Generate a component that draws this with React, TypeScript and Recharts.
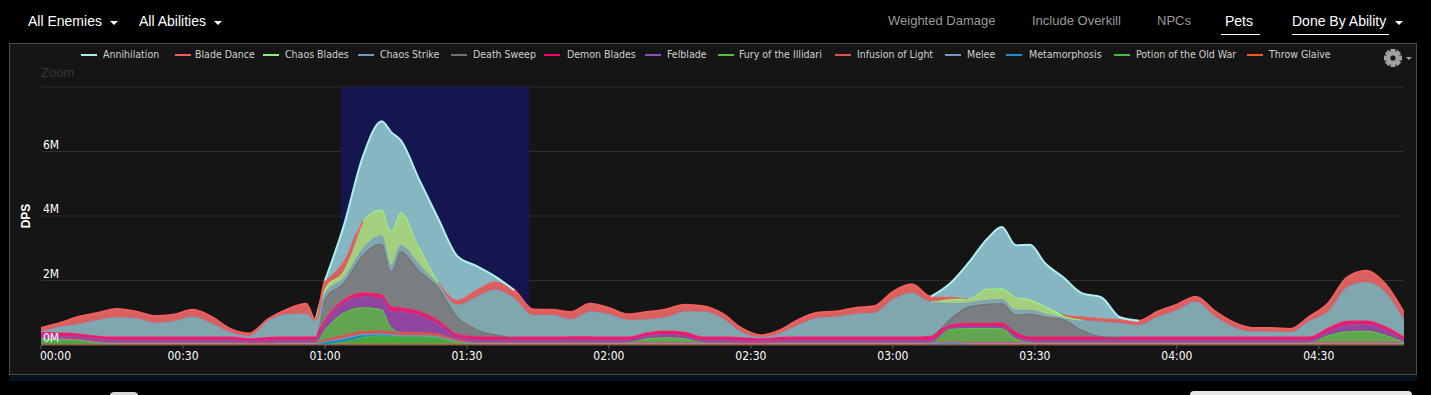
import React from 'react';
import { AreaChart, Area, XAxis, YAxis, CartesianGrid, ReferenceArea } from 'recharts';

const N = null;

// time in seconds since pull
const times = [0, 4, 8, 12, 16, 20, 24, 28, 32, 36, 40, 44, 48, 52, 56,
  58, 60, 64, 68, 72, 74, 76, 80, 84, 88, 92, 96, 100,
  104, 108, 112, 116, 120, 124, 128, 132, 136, 140, 144, 148, 152, 156, 160, 164, 168, 172, 176, 180, 184,
  188, 192, 196, 200, 203, 206, 209, 212, 216, 220, 224, 228, 232,
  236, 240, 244, 248, 252, 256, 260, 264, 268, 272, 276, 280, 284, 288];

// DPS values in millions
const annihilation = [N, N, N, N, N, N, N, N, N, N, N, N, N, N, N,
  N, 0, 1.1, 1.99, 2.74, 3.07, 2.23, 2.08, 1.93, 1.35, 0.73, 0.15, 0,
  N, N, N, N, N, N, N, N, N, N, N, N, N, N, N, N, N, N, N, N, N,
  0, 0.4, 1.11, 1.55, 1.91, 1.6, 1.7, 1.34, 1.15, 0.72, 0.64, 0.06, 0,
  N, N, N, N, N, N, N, N, N, N, N, N, N, N];
const bladeDance = [0.11, 0.11, 0.23, 0.21, 0.26, 0.2, 0.2, 0.2, 0.21, 0.2, 0.1, 0.08, 0.04, 0.14, 0.3,
  0.03, 0.25, 0.3, 0, N, N, N, N, 0, 0.15, 0.22, 0.25, 0.25,
  0.17, 0.15, 0.22, 0.24, 0.19, 0.17, 0.22, 0.24, 0.21, 0.16, 0.13, 0.11, 0.05, 0.09, 0.15, 0.16, 0.16, 0.18, 0.2, 0.23, 0.26,
  0.15, 0.08, 0, N, N, N, N, N, 0.05, 0.1, 0.11, 0.12, 0.13,
  0.16, 0.17, 0.15, 0.15, 0.14, 0.11, 0.11, 0.1, 0.13, 0.25, 0.3, 0.35, 0.25, 0.22];
const chaosBlades = [N, N, N, N, N, N, N, N, N, N, N, N, N, N, N,
  0, 0.15, 0.22, 0.85, 0.8, 1.03, 1.02, 0.52, 0.09, 0, N, N, N,
  N, N, N, N, N, N, N, N, N, N, N, N, N, N, N, N, N, N, N, N, N,
  0, 0.12, 0.12, 0.35, 0.32, 0.4, 0.32, 0.24, 0.05, 0, N, N, N,
  N, N, N, N, N, N, N, N, N, N, N, N, N, N];
const chaosStrike = [0.02, 0.18, 0.29, 0.49, 0.6, 0.58, 0.44, 0.48, 0.62, 0.42, 0.14, 0.07, 0.51, 0.7, 0.72,
  0.49, 0.15, 0.15, 0.2, 0.25, 0.22, 0.2, 0.2, 0.1, 0.37, 1.0, 1.39, 1.19,
  0.67, 0.68, 0.53, 0.77, 0.7, 0.52, 0.41, 0.41, 0.63, 0.78, 0.58, 0.17, 0.04, 0.11, 0.37, 0.58, 0.62, 0.71, 0.74, 1.16, 1.36,
  1.06, 0.5, 0.13, 0.12, 0.13, 0.14, 0.11, 0.1, 0.05, 0.31, 0.45, 0.42, 0.36,
  0.62, 0.82, 1.09, 0.64, 0.3, 0.16, 0.16, 0.14, 0.49, 0.51, 1.05, 1.19, 1.06, 0.52];
const deathSweep = [N, N, N, N, N, N, N, N, N, N, N, N, N, N, N,
  0, 0.67, 0.53, 1.17, 1.58, 1.08, 1.74, 1.25, 1.01, 0.54, 0.23, 0.07, 0,
  N, N, N, N, N, N, N, N, N, N, N, N, N, N, N, N, N, N, N, N, N,
  0.03, 0.18, 0.51, 0.6, 0.6, 0.55, 0.72, 0.62, 0.54, 0.21, 0.02, 0, N,
  N, N, N, N, N, N, N, N, N, N, N, N, N, N];
const demonBlades = [0.1, 0.1, 0.1, 0.1, 0.1, 0.1, 0.1, 0.1, 0.1, 0.1, 0.1, 0.08, 0.1, 0.1, 0.1,
  0.1, 0.1, 0.1, 0.12, 0.12, 0.15, 0.12, 0.12, 0.12, 0.1, 0.1, 0.1, 0.1,
  0.1, 0.1, 0.1, 0.1, 0.1, 0.1, 0.1, 0.12, 0.12, 0.1, 0.1, 0.1, 0.08, 0.1, 0.1, 0.1, 0.1, 0.1, 0.1, 0.1, 0.1,
  0.1, 0.08, 0.1, 0.1, 0.12, 0.12, 0.1, 0.1, 0.1, 0.1, 0.1, 0.1, 0.1,
  0.1, 0.1, 0.1, 0.1, 0.1, 0.1, 0.1, 0.1, 0.1, 0.12, 0.12, 0.12, 0.12, 0.1];
const felblade = [0.07, 0.07, 0.07, 0.07, 0.07, 0.07, 0.07, 0.07, 0.07, 0.07, 0.07, 0.05, 0.07, 0.07, 0.07,
  0.07, 0.2, 0.3, 0.34, 0.34, 0.5, 0.64, 0.53, 0.3, 0.06, 0.07, 0.07, 0.07,
  0.07, 0.07, 0.08, 0.08, 0.07, 0.07, 0.08, 0.09, 0.08, 0.07, 0.07, 0.06, 0.05, 0.06, 0.07, 0.07, 0.07, 0.07, 0.07, 0.07, 0.07,
  0.07, 0.04, 0.05, 0.05, 0.06, 0.08, 0.07, 0.07, 0.07, 0.07, 0.07, 0.07, 0.07,
  0.07, 0.07, 0.07, 0.07, 0.07, 0.07, 0.07, 0.07, 0.07, 0.12, 0.2, 0.2, 0.15, 0.07];
const furyOfTheIllidari = [N, N, N, N, N, N, N, N, N, N, N, N, N, N, N,
  0, 0.3, 0.69, 0.73, 0.65, 0.12, 0, N, N, N, N, N, N,
  N, N, N, N, N, 0, 0.12, 0.15, 0.12, 0, N, N, N, N, N, N, N, N, N, N, N,
  0, 0.38, 0.43, 0.43, 0.42, 0.1, 0, N, N, N, N, N, N,
  N, N, N, N, N, N, N, N, 0, 0.2, 0.33, 0.34, 0.22, 0];
const infusionOfLight = [0.02, 0.02, 0.02, 0.02, 0.02, 0.02, 0.02, 0.02, 0.02, 0.02, 0.02, 0.02, 0.02, 0.02, 0.02,
  0.02, 0.06, 0.1, 0.1, 0.1, 0.1, 0.1, 0.1, 0.09, 0.06, 0.03, 0.02, 0.02,
  0.02, 0.02, 0.02, 0.02, 0.02, 0.02, 0.02, 0.02, 0.02, 0.02, 0.02, 0.02, 0.02, 0.02, 0.02, 0.02, 0.02, 0.02, 0.02, 0.02, 0.02,
  0.02, 0.03, 0.03, 0.03, 0.03, 0.03, 0.02, 0.02, 0.02, 0.02, 0.02, 0.02, 0.02,
  0.02, 0.02, 0.02, 0.02, 0.02, 0.02, 0.02, 0.02, 0.02, 0.02, 0.02, 0.02, 0.02, 0.02];
const melee = [0.03, 0.03, 0.03, 0.03, 0.03, 0.03, 0.03, 0.03, 0.03, 0.03, 0.03, 0.03, 0.03, 0.03, 0.03,
  0.03, 0.03, 0.03, 0.03, 0.03, 0.03, 0.03, 0.03, 0.03, 0.03, 0.03, 0.03, 0.03,
  0.03, 0.03, 0.03, 0.03, 0.03, 0.03, 0.03, 0.03, 0.03, 0.03, 0.03, 0.03, 0.03, 0.03, 0.03, 0.03, 0.03, 0.03, 0.03, 0.03, 0.03,
  0.03, 0.03, 0.03, 0.03, 0.03, 0.03, 0.03, 0.03, 0.03, 0.03, 0.03, 0.03, 0.03,
  0.03, 0.03, 0.03, 0.03, 0.03, 0.03, 0.03, 0.03, 0.03, 0.03, 0.03, 0.03, 0.03, 0.03];
const metamorphosis = [N, N, N, N, N, N, N, N, N, N, N, N, N, N, N,
  0, 0.05, 0.08, 0.06, 0.03, 0, N, N, N, N, N, N, N,
  N, N, N, N, N, N, N, N, N, N, N, N, N, N, N, N, N, N, N, N, N,
  0, 0.02, 0, N, N, N, N, N, N, N, N, N, N,
  N, N, N, N, N, N, N, N, N, N, N, N, N, N];
const potionOfTheOldWar = [0.14, 0.13, 0.1, 0.03, 0, N, N, N, N, N, N, N, N, N, N,
  N, 0, 0.06, 0.2, 0.25, 0.25, 0.22, 0.22, 0.18, 0.04, 0, N, N,
  N, N, N, N, N, N, N, N, N, N, N, N, N, N, N, N, N, N, N, N, N,
  N, N, N, N, N, N, N, N, N, N, N, N, N,
  N, N, N, N, N, N, N, N, N, N, N, N, N, N];
const throwGlaive = [0.04, 0.04, 0.04, 0.04, 0.04, 0.04, 0.04, 0.04, 0.04, 0.04, 0.04, 0.03, 0.03, 0.04, 0.04,
  0.04, 0.04, 0.05, 0.05, 0.05, 0.05, 0.05, 0.05, 0.05, 0.05, 0.04, 0.04, 0.04,
  0.04, 0.04, 0.04, 0.04, 0.04, 0.04, 0.04, 0.04, 0.04, 0.04, 0.04, 0.03, 0.03, 0.04, 0.04, 0.04, 0.04, 0.04, 0.04, 0.04, 0.04,
  0.04, 0.04, 0.04, 0.04, 0.04, 0.04, 0.04, 0.04, 0.04, 0.04, 0.04, 0.04, 0.04,
  0.04, 0.04, 0.04, 0.04, 0.04, 0.04, 0.04, 0.04, 0.04, 0.05, 0.05, 0.05, 0.05, 0.04];

const seriesNames = ['Annihilation', 'Blade Dance', 'Chaos Blades', 'Chaos Strike', 'Death Sweep', 'Demon Blades',
  'Felblade', 'Fury of the Illidari', 'Infusion of Light', 'Melee', 'Metamorphosis', 'Potion of the Old War', 'Throw Glaive'];
const seriesValues = [annihilation, bladeDance, chaosBlades, chaosStrike, deathSweep, demonBlades, felblade,
  furyOfTheIllidari, infusionOfLight, melee, metamorphosis, potionOfTheOldWar, throwGlaive];

const xTicks = [0, 30, 60, 90, 120, 150, 180, 210, 240, 270];
const xTickLabels = ['00:00', '00:30', '01:00', '01:30', '02:00', '02:30', '03:00', '03:30', '04:00', '04:30'];
const yTicks = [0, 2, 4, 6, 8];
const yTickLabels = ['0M', '2M', '4M', '6M', ''];
const zoomBand = [63.4, 103.2];

const topLeftLabels = ['All Enemies', 'All Abilities'];
const topRightLabels = ['Weighted Damage', 'Include Overkill', 'NPCs', 'Pets', 'Done By Ability'];

// styles (kept apart from data)
const seriesStyle = [
  { stroke: '#aef0f0', fill: '#85b6c1', legend: '#aaeeee' },
  { stroke: '#f25e5e', fill: '#d8615f', legend: '#f45b5b' },
  { stroke: '#a0f57c', fill: '#a3cf7f', legend: '#90ee7e' },
  { stroke: '#7d9fc0', fill: '#80a6ae', legend: '#7798bf' },
  { stroke: '#707070', fill: '#7b7e80', legend: '#707070' },
  { stroke: '#ff1a70', fill: '#e0206e', legend: '#ff0066' },
  { stroke: '#9450b0', fill: '#90459e', legend: '#8a52b8' },
  { stroke: '#55cc44', fill: '#62a550', legend: '#55bf3b' },
  { stroke: '#df5353', fill: '#c85a5a', legend: '#df5353' },
  { stroke: '#7798bf', fill: '#7a95b5', legend: '#7798bf' },
  { stroke: '#1d8fd6', fill: '#1f7fc0', legend: '#1a8fd0' },
  { stroke: '#44bb44', fill: '#45a845', legend: '#44bb44' },
  { stroke: '#e8642a', fill: '#d86028', legend: '#f05a24' },
];
const legendSymbolX = [81, 175, 263, 358, 451, 544, 645, 718, 835, 945, 1006, 1114, 1247];
const legendTextX = [103, 195, 285, 380, 473, 567, 667, 739, 857, 967, 1029, 1136, 1269];

const keys = seriesNames.map((_, i) => 's' + i);
const data = times.map((t, i) => {
  const row: Record<string, number | null> = { t };
  seriesValues.forEach((vals, k) => { row[keys[k]] = vals[i]; });
  return row;
});

const condensed = "'DejaVu Sans Condensed', 'DejaVu Sans', sans-serif";
const arial = "Arial, 'Liberation Sans', sans-serif";

const YTick = (props: any) => {
  const { y, payload } = props;
  const idx = yTicks.indexOf(payload.value);
  return (
    <text x={43} y={y - 3} fill="#ffffff" fontSize={12} fontFamily={condensed}>{yTickLabels[idx]}</text>
  );
};

const XTick = (props: any) => {
  const { x, y, payload } = props;
  const idx = xTicks.indexOf(payload.value);
  return (
    <text x={idx === 0 ? x - 1 : x} y={y + 9} fill="#ffffff" fontSize={12} fontFamily={condensed}
      textAnchor={idx === 0 ? 'start' : 'middle'}>{xTickLabels[idx]}</text>
  );
};

const Caret = ({ left, top, color }: { left: number; top: number; color: string }) => (
  <div style={{ position: 'absolute', left, top, width: 0, height: 0, borderLeft: '4px solid transparent', borderRight: '4px solid transparent', borderTop: `4px solid ${color}` }} />
);

export default function App() {
  const order = seriesNames.map((_, i) => i).reverse();
  return (
    <div style={{ position: 'relative', width: 1431, height: 395, background: '#000', overflow: 'hidden' }}>
      <style>{'body{margin:0;background:#000;}'}</style>
      {/* top bar */}
      <div style={{ position: 'absolute', left: 28, top: 13, fontFamily: arial, fontSize: 14, lineHeight: '16px', color: '#fff' }}>{topLeftLabels[0]}</div>
      <Caret left={110} top={21} color="#fff" />
      <div style={{ position: 'absolute', left: 139, top: 13, fontFamily: arial, fontSize: 14, lineHeight: '16px', color: '#fff' }}>{topLeftLabels[1]}</div>
      <Caret left={214} top={21} color="#fff" />
      <div style={{ position: 'absolute', left: 888, top: 13, fontFamily: arial, fontSize: 13, lineHeight: '16px', color: '#9a9a9a' }}>{topRightLabels[0]}</div>
      <div style={{ position: 'absolute', left: 1032, top: 13, fontFamily: arial, fontSize: 13, lineHeight: '16px', color: '#9a9a9a' }}>{topRightLabels[1]}</div>
      <div style={{ position: 'absolute', left: 1157, top: 13, fontFamily: arial, fontSize: 13, lineHeight: '16px', color: '#9a9a9a' }}>{topRightLabels[2]}</div>
      <div style={{ position: 'absolute', left: 1225, top: 13, fontFamily: arial, fontSize: 14, lineHeight: '16px', color: '#fff' }}>{topRightLabels[3]}</div>
      <div style={{ position: 'absolute', left: 1221, top: 34, width: 39, height: 1, background: '#fff' }} />
      <div style={{ position: 'absolute', left: 1292, top: 13, fontFamily: arial, fontSize: 14, lineHeight: '16px', color: '#fff' }}>{topRightLabels[4]}</div>
      <div style={{ position: 'absolute', left: 1292, top: 34, width: 97, height: 1, background: '#fff' }} />
      <Caret left={1395} top={21} color="#fff" />

      {/* panel */}
      <div style={{ position: 'absolute', left: 9, top: 43, width: 1408, height: 332, boxSizing: 'border-box', border: '1px solid #4c4c4c', background: '#151515' }} />
      <div style={{ position: 'absolute', left: 9, top: 375, width: 1408, height: 6, background: '#03141e' }} />
      <div style={{ position: 'absolute', left: 110, top: 392, width: 28, height: 10, borderRadius: 4, background: '#d8d8d8' }} />
      <div style={{ position: 'absolute', left: 1190, top: 391, width: 222, height: 10, borderRadius: 4, background: '#e6e6e6' }} />

      {/* legend */}
      {seriesNames.map((name, i) => (
        <React.Fragment key={name}>
          <div style={{ position: 'absolute', left: legendSymbolX[i], top: 54, width: 16, height: 2, background: seriesStyle[i].legend }} />
          <div style={{ position: 'absolute', left: legendTextX[i], top: 47, fontFamily: condensed, fontSize: 10.5, lineHeight: '14px', color: '#d0d0d0', whiteSpace: 'nowrap' }}>{name}</div>
        </React.Fragment>
      ))}
      {/* gear */}
      <svg style={{ position: 'absolute', left: 1383, top: 48 }} width={32} height={20}>
        {[0, 45, 90, 135].map((a) => (
          <rect key={a} x={7.5} y={1} width={5} height={18} fill="#a0a0a0" transform={`rotate(${a} 10 10)`} />
        ))}
        <circle cx={10} cy={10} r={6.5} fill="#a0a0a0" />
        <circle cx={10} cy={10} r={2.6} fill="#151515" />
        <path d="M23 9 L29 9 L26 12 Z" fill="#a0a0a0" />
      </svg>

      <div style={{ position: 'absolute', left: 41, top: 65, fontFamily: arial, fontSize: 13, lineHeight: '16px', color: '#383838' }}>Zoom</div>
      <div style={{ position: 'absolute', left: 26, top: 216, transform: 'translate(-50%, -50%) rotate(-90deg)', fontFamily: arial, fontSize: 12, fontWeight: 'bold', color: '#fff', whiteSpace: 'nowrap' }}>DPS</div>

      <div style={{ position: 'absolute', left: 0, top: 0 }}>
        <AreaChart width={1431} height={395} data={data} margin={{ top: 87, right: 27, bottom: 20, left: 41 }}>
          <CartesianGrid vertical={false} stroke="#2e2e2e" />
          <ReferenceArea x1={zoomBand[0]} x2={zoomBand[1]} y1={0} y2={8} fill="#15154f" fillOpacity={1} stroke="none" ifOverflow="hidden" />
          <XAxis dataKey="t" type="number" domain={[0, 288]} ticks={xTicks} interval={0} height={30}
            tick={(p: any) => <XTick {...p} />}
            axisLine={{ stroke: '#5a5a5a' }} tickLine={{ stroke: '#5a5a5a' }} tickSize={4} allowDataOverflow />
          <YAxis type="number" domain={[0, 8]} ticks={yTicks} interval={0} width={60} mirror axisLine={false} tickLine={false}
            tick={(p: any) => <YTick {...p} />} allowDataOverflow />
          {order.map((i) => (
            <Area key={keys[i]} type="monotone" dataKey={keys[i]} name={seriesNames[i]} stackId="dps"
              stroke={seriesStyle[i].stroke} strokeWidth={2} fill={seriesStyle[i].fill} fillOpacity={1}
              isAnimationActive={false} dot={false} activeDot={false} />
          ))}
        </AreaChart>
      </div>
    </div>
  );
}
